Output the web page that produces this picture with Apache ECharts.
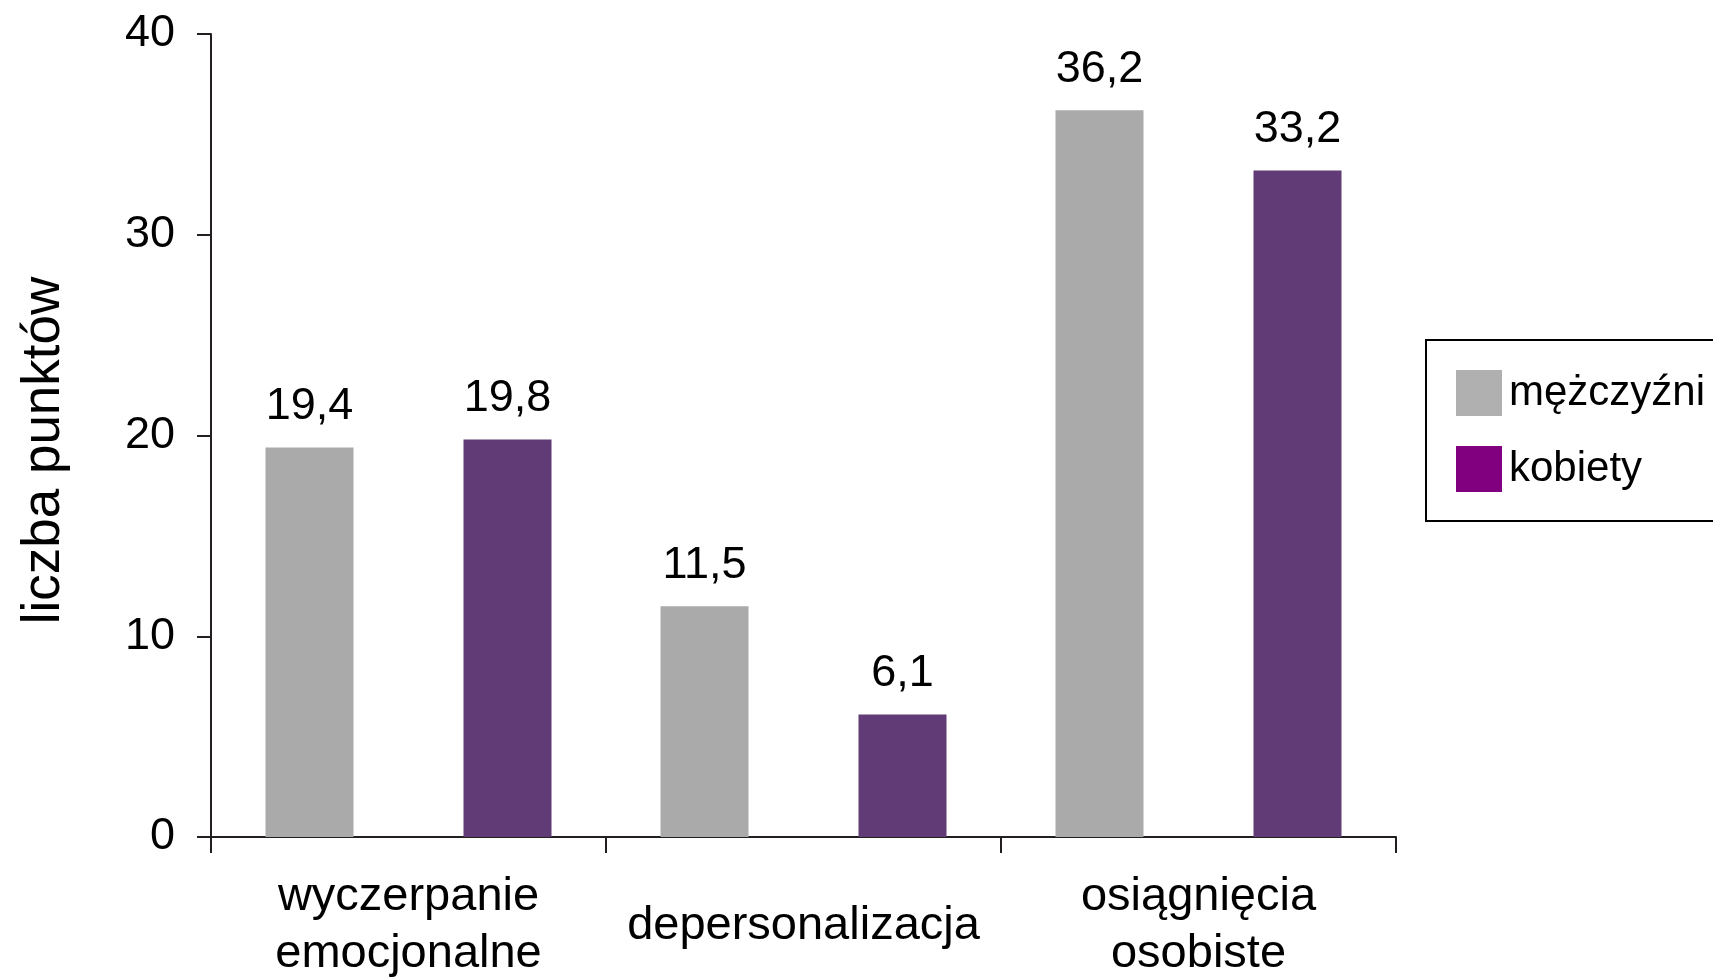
<!DOCTYPE html>
<html>
<head>
<meta charset="utf-8">
<title>liczba punktów</title>
<script src="https://cdn.jsdelivr.net/npm/echarts@6/dist/echarts.min.js"></script>
<style>
    html, body { margin: 0; padding: 0; background: #fff; }
    #chart { width: 1713px; height: 977px; }
</style>
</head>
<body>
<div id="chart"></div>
<script>
// dane
const categories = ['wyczerpanie\nemocjonalne', 'depersonalizacja', 'osiągnięcia\nosobiste'];
const menValues = [19.4, 11.5, 36.2];
const womenValues = [19.8, 6.1, 33.2];
const seriesNames = ['mężczyźni', 'kobiety'];
const yTicks = { min: 0, max: 40, interval: 10 };

const FONT = '"Liberation Sans", Arial, sans-serif';
const axisColor = '#231f20';

const chart = echarts.init(document.getElementById('chart'));

// etykieta wartości z przecinkiem
const labelFmt = p => String(p.value).replace('.', ',');

const options = {
    animation: false,
    textStyle: { fontFamily: FONT, color: '#000' },
    grid: { left: 211, right: 317, top: 34, bottom: 140, outerBoundsMode: 'none' },
    legend: {
        orient: 'vertical',
        left: 1426,
        top: 340,
        padding: [30, 80, 29, 30],
        itemWidth: 46,
        itemHeight: 46,
        itemGap: 30,
        borderColor: '#000',
        borderWidth: 2,
        backgroundColor: '#fff',
        icon: 'rect',
        textStyle: { fontFamily: FONT, fontSize: 42, color: '#000', padding: [0, 0, 0, 2] },
        data: [
            { name: seriesNames[0], itemStyle: { color: '#b0b0b0' } },
            { name: seriesNames[1], itemStyle: { color: '#800080' } }
        ]
    },
    xAxis: {
        type: 'category',
        data: categories,
        axisLine: { lineStyle: { color: axisColor, width: 2 } },
        axisTick: { show: true, length: 16, lineStyle: { color: axisColor, width: 2 } },
        axisLabel: {
            fontFamily: FONT,
            fontSize: 47,
            color: '#000',
            margin: 89,
            lineHeight: 57,
            verticalAlign: 'middle',
            interval: 0
        }
    },
    yAxis: {
        type: 'value',
        min: yTicks.min,
        max: yTicks.max,
        interval: yTicks.interval,
        name: 'liczba punktów',
        nameLocation: 'middle',
        nameGap: 140,
        nameTextStyle: { fontFamily: FONT, fontSize: 53, color: '#000', padding: [0, 30, 0, 0] },
        axisLine: { show: true, lineStyle: { color: axisColor, width: 2 } },
        axisTick: { show: true, length: 14, lineStyle: { color: axisColor, width: 2 } },
        splitLine: { show: false },
        axisLabel: { fontFamily: FONT, fontSize: 45, color: '#000', margin: 36 }
    },
    series: [
        {
            name: seriesNames[0],
            type: 'bar',
            data: menValues,
            barWidth: 88,
            barGap: '125%',
            itemStyle: { color: '#aaaaaa' },
            label: { show: true, position: 'top', distance: 18, fontFamily: FONT, fontSize: 45, color: '#000', formatter: labelFmt }
        },
        {
            name: seriesNames[1],
            type: 'bar',
            data: womenValues,
            barWidth: 88,
            barGap: '125%',
            itemStyle: { color: '#613b75' },
            label: { show: true, position: 'top', distance: 18, fontFamily: FONT, fontSize: 45, color: '#000', formatter: labelFmt }
        }
    ]
};

chart.setOption(options);
</script>
</body>
</html>
